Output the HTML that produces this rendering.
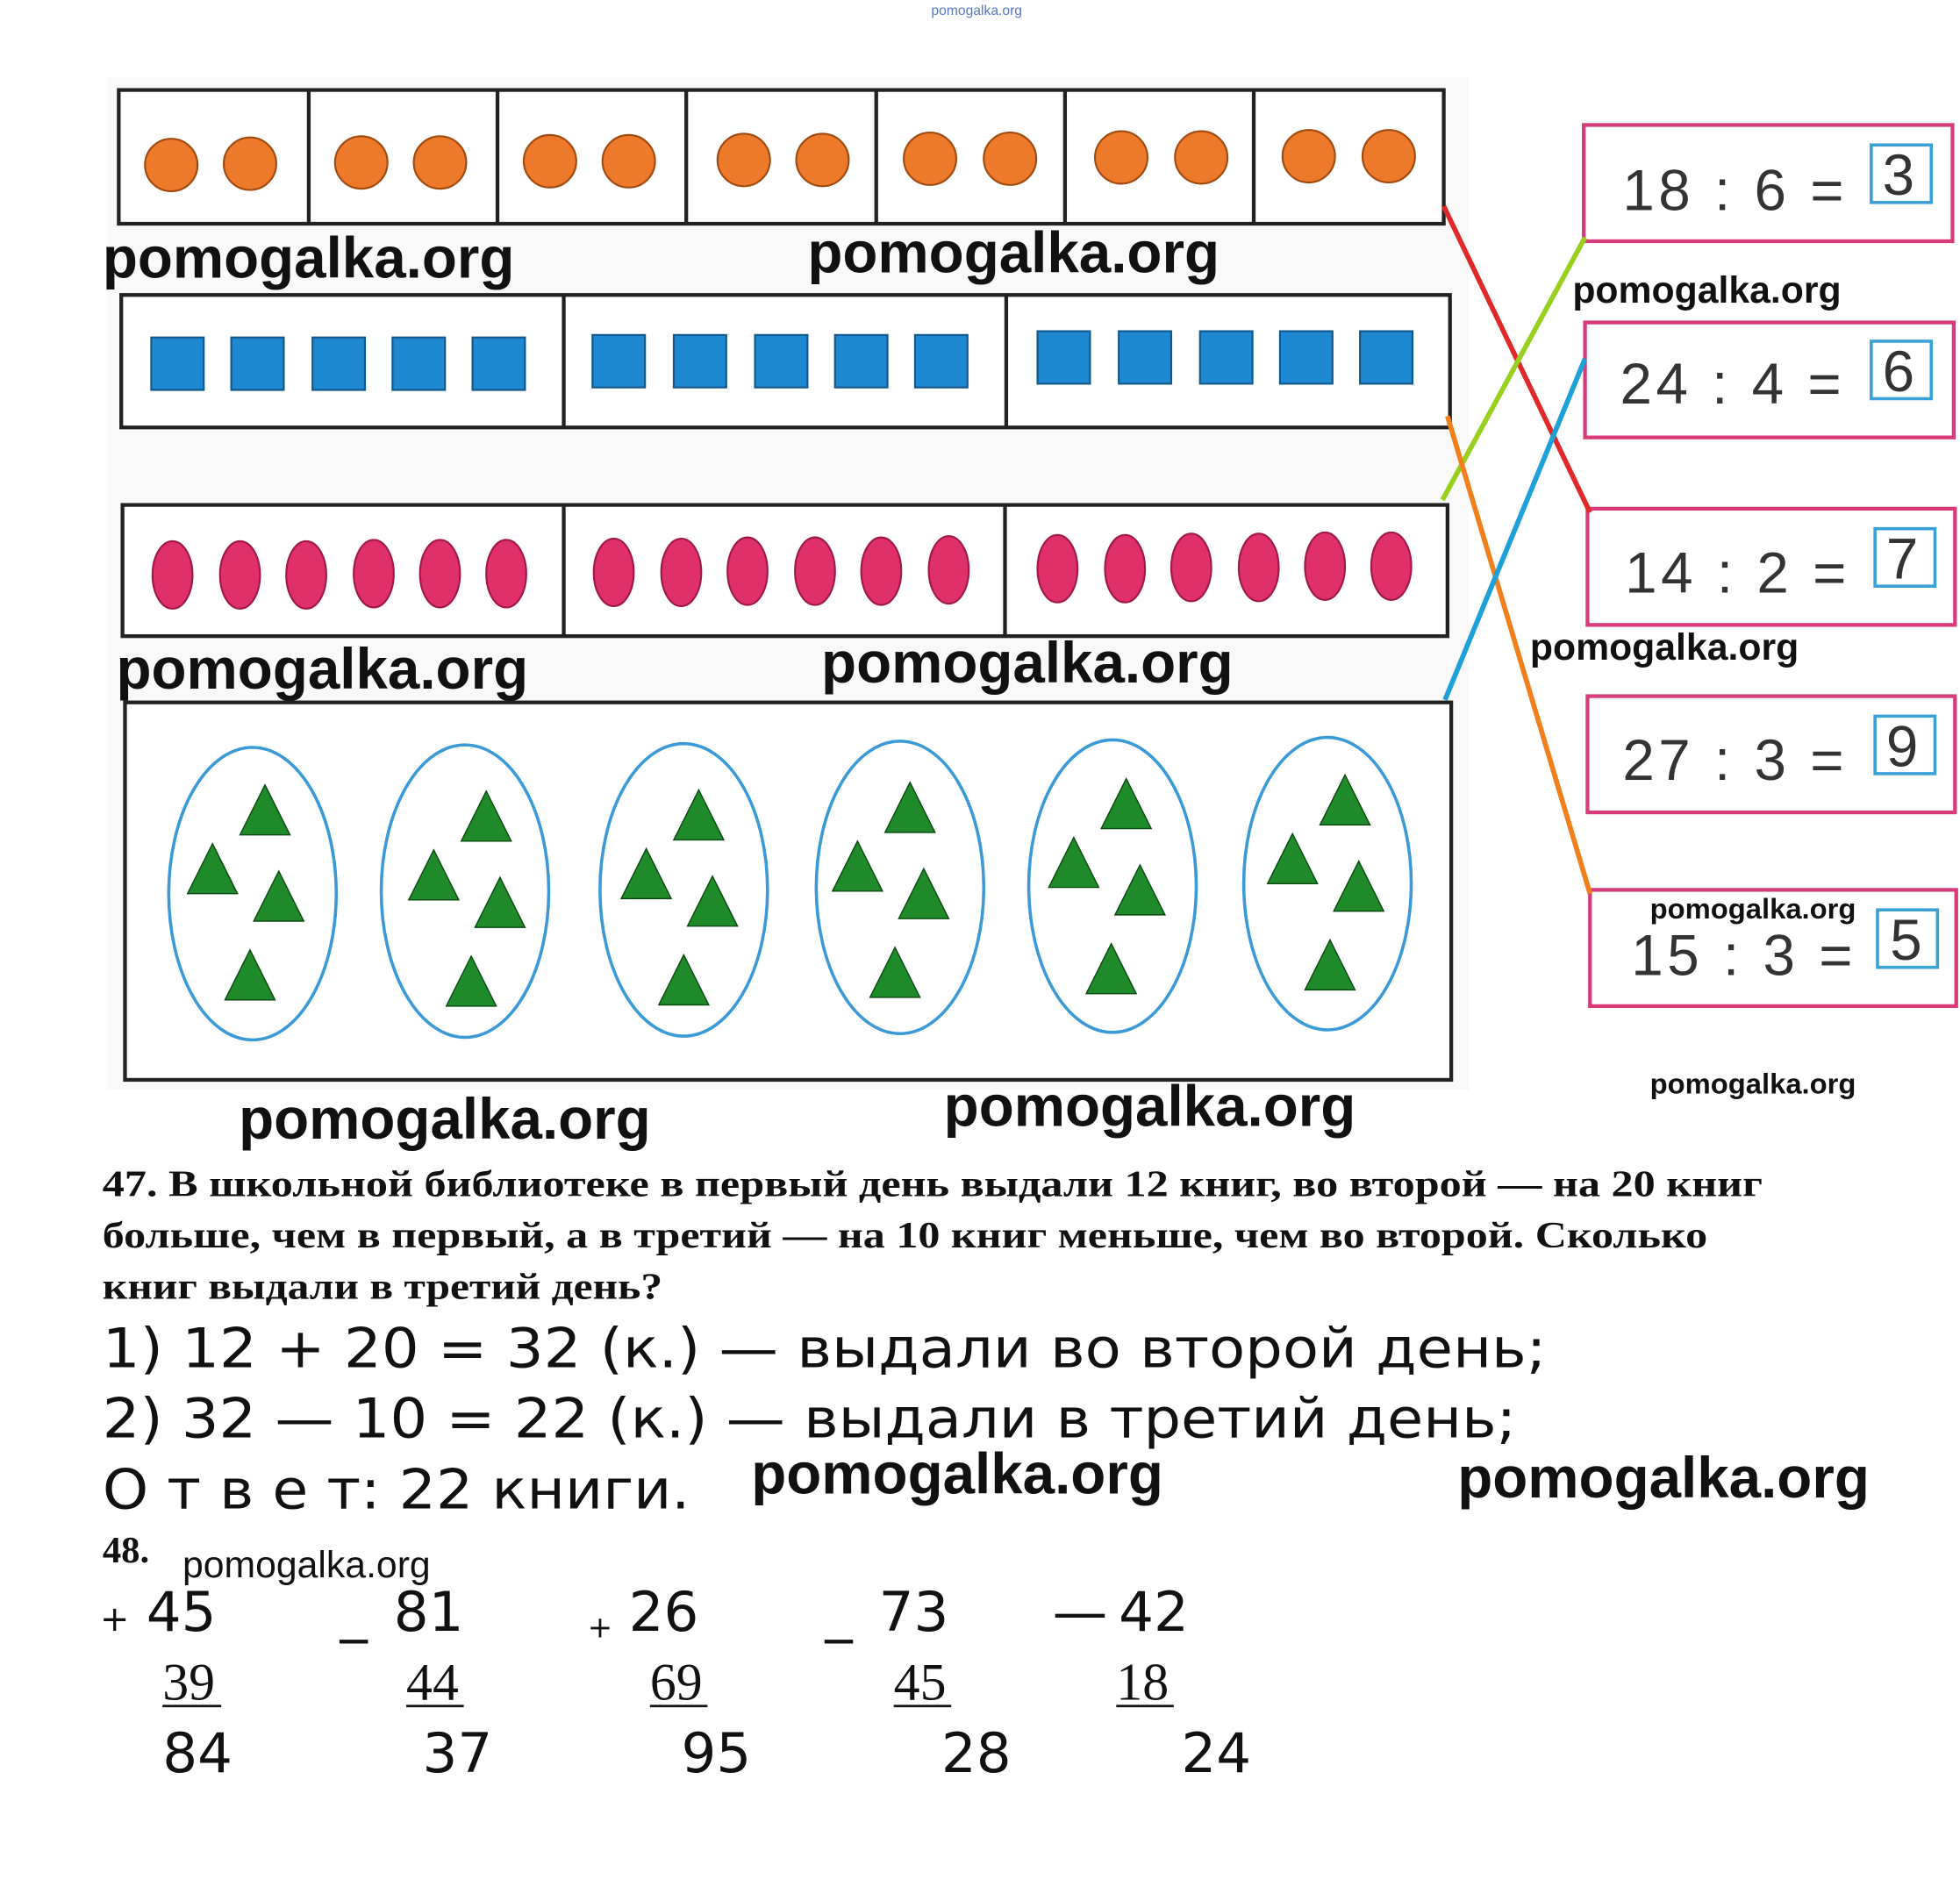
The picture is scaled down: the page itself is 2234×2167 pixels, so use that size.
<!DOCTYPE html>
<html><head><meta charset="utf-8"><style>
html,body{margin:0;padding:0;background:#fff}
svg{display:block}
.wm{font-family:"Liberation Sans",sans-serif;font-weight:bold;fill:#111}
.ser{font-family:"Liberation Serif",serif;font-weight:bold;fill:#111;font-size:30px}
.ans{font-family:"DejaVu Sans","Liberation Sans",sans-serif;fill:#111;font-size:44px}
.eq{font-family:"Liberation Sans",sans-serif;fill:#333;font-size:46px}
</style></head><body>
<svg width="2234" height="2167" viewBox="0 0 1568 1521" preserveAspectRatio="none" xmlns="http://www.w3.org/2000/svg">
<rect x="0" y="0" width="1568" height="1521" fill="#fff"/>
<text x="745" y="12" font-size="11" fill="#5577cc" font-family="Liberation Sans">pomogalka.org</text>
<rect x="85" y="62" width="1090" height="810" fill="#f9f9f9"/>
<rect x="95" y="72" width="1060" height="107" fill="#fff" stroke="#222" stroke-width="3"/>
<g stroke="#222" stroke-width="3"><line x1="247" y1="72" x2="247" y2="179"/><line x1="398" y1="72" x2="398" y2="179"/><line x1="549" y1="72" x2="549" y2="179"/><line x1="701" y1="72" x2="701" y2="179"/><line x1="852" y1="72" x2="852" y2="179"/><line x1="1003" y1="72" x2="1003" y2="179"/></g>
<g fill="#ec7a2a" stroke="#a04a10" stroke-width="1.5">
<circle cx="137" cy="132" r="21"/><circle cx="200" cy="131" r="21"/>
<circle cx="289" cy="130" r="21"/><circle cx="352" cy="130" r="21"/>
<circle cx="440" cy="129" r="21"/><circle cx="503" cy="129" r="21"/>
<circle cx="595" cy="128" r="21"/><circle cx="658" cy="128" r="21"/>
<circle cx="744" cy="127" r="21"/><circle cx="808" cy="127" r="21"/>
<circle cx="897" cy="126" r="21"/><circle cx="961" cy="126" r="21"/>
<circle cx="1047" cy="125" r="21"/><circle cx="1111" cy="125" r="21"/></g>
<text class="wm" x="82" y="222" font-size="46">pomogalka.org</text>
<text class="wm" x="646" y="218" font-size="46">pomogalka.org</text>
<rect x="97" y="236" width="1063" height="106" fill="#fff" stroke="#222" stroke-width="3"/>
<g stroke="#222" stroke-width="3"><line x1="451" y1="236" x2="451" y2="342"/><line x1="805" y1="236" x2="805" y2="342"/></g>
<g fill="#1e88d0" stroke="#10588a" stroke-width="1.5">
<rect x="121" y="270" width="42" height="42"/><rect x="185" y="270" width="42" height="42"/><rect x="250" y="270" width="42" height="42"/><rect x="314" y="270" width="42" height="42"/><rect x="378" y="270" width="42" height="42"/>
<rect x="474" y="268" width="42" height="42"/><rect x="539" y="268" width="42" height="42"/><rect x="604" y="268" width="42" height="42"/><rect x="668" y="268" width="42" height="42"/><rect x="732" y="268" width="42" height="42"/>
<rect x="830" y="265" width="42" height="42"/><rect x="895" y="265" width="42" height="42"/><rect x="960" y="265" width="42" height="42"/><rect x="1024" y="265" width="42" height="42"/><rect x="1088" y="265" width="42" height="42"/></g>
<rect x="98" y="404" width="1060" height="105" fill="#fff" stroke="#222" stroke-width="3"/>
<g stroke="#222" stroke-width="3"><line x1="451" y1="404" x2="451" y2="509"/><line x1="804" y1="404" x2="804" y2="509"/></g>
<g fill="#e0306a" stroke="#a01848" stroke-width="1.5">
<ellipse cx="138" cy="460" rx="16" ry="27"/><ellipse cx="192" cy="460" rx="16" ry="27"/><ellipse cx="245" cy="460" rx="16" ry="27"/><ellipse cx="299" cy="459" rx="16" ry="27"/><ellipse cx="352" cy="459" rx="16" ry="27"/><ellipse cx="405" cy="459" rx="16" ry="27"/>
<ellipse cx="491" cy="458" rx="16" ry="27"/><ellipse cx="545" cy="458" rx="16" ry="27"/><ellipse cx="598" cy="457" rx="16" ry="27"/><ellipse cx="652" cy="457" rx="16" ry="27"/><ellipse cx="705" cy="457" rx="16" ry="27"/><ellipse cx="759" cy="456" rx="16" ry="27"/>
<ellipse cx="846" cy="455" rx="16" ry="27"/><ellipse cx="900" cy="455" rx="16" ry="27"/><ellipse cx="953" cy="454" rx="16" ry="27"/><ellipse cx="1007" cy="454" rx="16" ry="27"/><ellipse cx="1060" cy="453" rx="16" ry="27"/><ellipse cx="1113" cy="453" rx="16" ry="27"/></g>
<text class="wm" x="93" y="551" font-size="46">pomogalka.org</text>
<text class="wm" x="657" y="546" font-size="46">pomogalka.org</text>
<rect x="100" y="562" width="1061" height="302" fill="#fff" stroke="#222" stroke-width="3"/>
<g fill="none" stroke="#3a9ad8" stroke-width="2.5">
<ellipse cx="202" cy="715" rx="67" ry="117"/><ellipse cx="372" cy="713" rx="67" ry="117"/><ellipse cx="547" cy="712" rx="67" ry="117"/><ellipse cx="720" cy="710" rx="67" ry="117"/><ellipse cx="890" cy="709" rx="67" ry="117"/><ellipse cx="1062" cy="707" rx="67" ry="117"/></g>
<g fill="#1e8a2a" stroke="#0a4a10" stroke-width="1">
<g id="tri"><polygon points="212,628 192,668 232,668"/><polygon points="170,675 150,715 190,715"/><polygon points="223,697 203,737 243,737"/><polygon points="200,760 180,800 220,800"/></g>
<use href="#tri" transform="translate(177,5)"/>
<use href="#tri" transform="translate(347,4)"/>
<use href="#tri" transform="translate(516,-2)"/>
<use href="#tri" transform="translate(689,-5)"/>
<use href="#tri" transform="translate(864,-8)"/>
</g>
<text class="wm" x="191" y="911" font-size="46">pomogalka.org</text>
<text class="wm" x="755" y="901" font-size="46">pomogalka.org</text>
<g fill="#fff" stroke="#d83a7a" stroke-width="3">
<rect x="1267" y="100" width="295" height="93"/><rect x="1268" y="258" width="295" height="92"/><rect x="1270" y="407" width="294" height="93"/><rect x="1270" y="557" width="294" height="93"/><rect x="1272" y="712" width="293" height="93"/></g>
<g fill="none" stroke="#3aa0d8" stroke-width="2.5">
<rect x="1497" y="116" width="48" height="46"/><rect x="1497" y="273" width="48" height="46"/><rect x="1500" y="423" width="48" height="46"/><rect x="1500" y="573" width="48" height="46"/><rect x="1502" y="728" width="48" height="46"/></g>
<text class="eq" x="1298" y="168" textLength="177" lengthAdjust="spacing">18 : 6 =</text><text class="eq" x="1506" y="156">3</text>
<text class="eq" x="1296" y="323" textLength="177" lengthAdjust="spacing">24 : 4 =</text><text class="eq" x="1506" y="313">6</text>
<text class="eq" x="1300" y="474" textLength="177" lengthAdjust="spacing">14 : 2 =</text><text class="eq" x="1509" y="463">7</text>
<text class="eq" x="1298" y="624" textLength="177" lengthAdjust="spacing">27 : 3 =</text><text class="eq" x="1509" y="613">9</text>
<text class="eq" x="1305" y="780" textLength="177" lengthAdjust="spacing">15 : 3 =</text><text class="eq" x="1512" y="768">5</text>
<line x1="1155" y1="165" x2="1272" y2="410" stroke="#e02a2a" stroke-width="4"/>
<line x1="1154" y1="400" x2="1268" y2="190" stroke="#99d020" stroke-width="4"/>
<line x1="1158" y1="333" x2="1272" y2="715" stroke="#f0801e" stroke-width="4"/>
<line x1="1156" y1="560" x2="1268" y2="287" stroke="#1ea0d8" stroke-width="4"/>
<text class="wm" x="1258" y="242" font-size="30">pomogalka.org</text>
<text class="wm" x="1224" y="528" font-size="30">pomogalka.org</text>
<text class="wm" x="1320" y="735" font-size="23">pomogalka.org</text>
<text class="wm" x="1320" y="875" font-size="23">pomogalka.org</text>
<text class="ser" x="82" y="957" textLength="1328" lengthAdjust="spacingAndGlyphs">47. В школьной библиотеке в первый день выдали 12 книг, во второй — на 20 книг</text>
<text class="ser" x="82" y="998" textLength="1284" lengthAdjust="spacingAndGlyphs">больше, чем в первый, а в третий — на 10 книг меньше, чем во второй. Сколько</text>
<text class="ser" x="82" y="1039" textLength="448" lengthAdjust="spacingAndGlyphs">книг выдали в третий день?</text>
<text class="ans" x="82" y="1094" textLength="1155" lengthAdjust="spacingAndGlyphs">1) 12 + 20 = 32 (к.) — выдали во второй день;</text>
<text class="ans" x="82" y="1150" textLength="1131" lengthAdjust="spacingAndGlyphs">2) 32 — 10 = 22 (к.) — выдали в третий день;</text>
<text class="ans" x="82" y="1207" textLength="470" lengthAdjust="spacingAndGlyphs">О т в е т: 22 книги.</text>
<text class="wm" x="601" y="1195" font-size="46">pomogalka.org</text>
<text class="wm" x="1166" y="1198" font-size="46">pomogalka.org</text>
<text class="ser" x="82" y="1250">48.</text>
<text x="146" y="1262" font-size="30" fill="#111" font-family="Liberation Sans">pomogalka.org</text>
<g class="ans">
<text x="80" y="1305" font-size="28" fill="#111">+</text><text x="117" y="1305">45</text>
<text x="272" y="1305">_</text><text x="315" y="1305">81</text>
<text x="470" y="1310" font-size="24" fill="#111">+</text><text x="503" y="1305">26</text>
<text x="660" y="1305">_</text><text x="703" y="1305">73</text>
<text x="842" y="1305">—</text><text x="895" y="1305">42</text>
<text x="130" y="1418">84</text><text x="338" y="1418">37</text><text x="545" y="1418">95</text><text x="753" y="1418">28</text><text x="945" y="1418">24</text>
</g>
<g font-family="Liberation Serif" font-size="42" fill="#111">
<text x="130" y="1360">39</text><text x="325" y="1360">44</text><text x="520" y="1360">69</text><text x="715" y="1360">45</text><text x="893" y="1360">18</text></g>
<g stroke="#111" stroke-width="2"><line x1="130" y1="1365" x2="177" y2="1365"/><line x1="325" y1="1365" x2="371" y2="1365"/><line x1="520" y1="1365" x2="566" y2="1365"/><line x1="715" y1="1365" x2="761" y2="1365"/><line x1="893" y1="1365" x2="939" y2="1365"/></g>
</svg>
</body></html>
